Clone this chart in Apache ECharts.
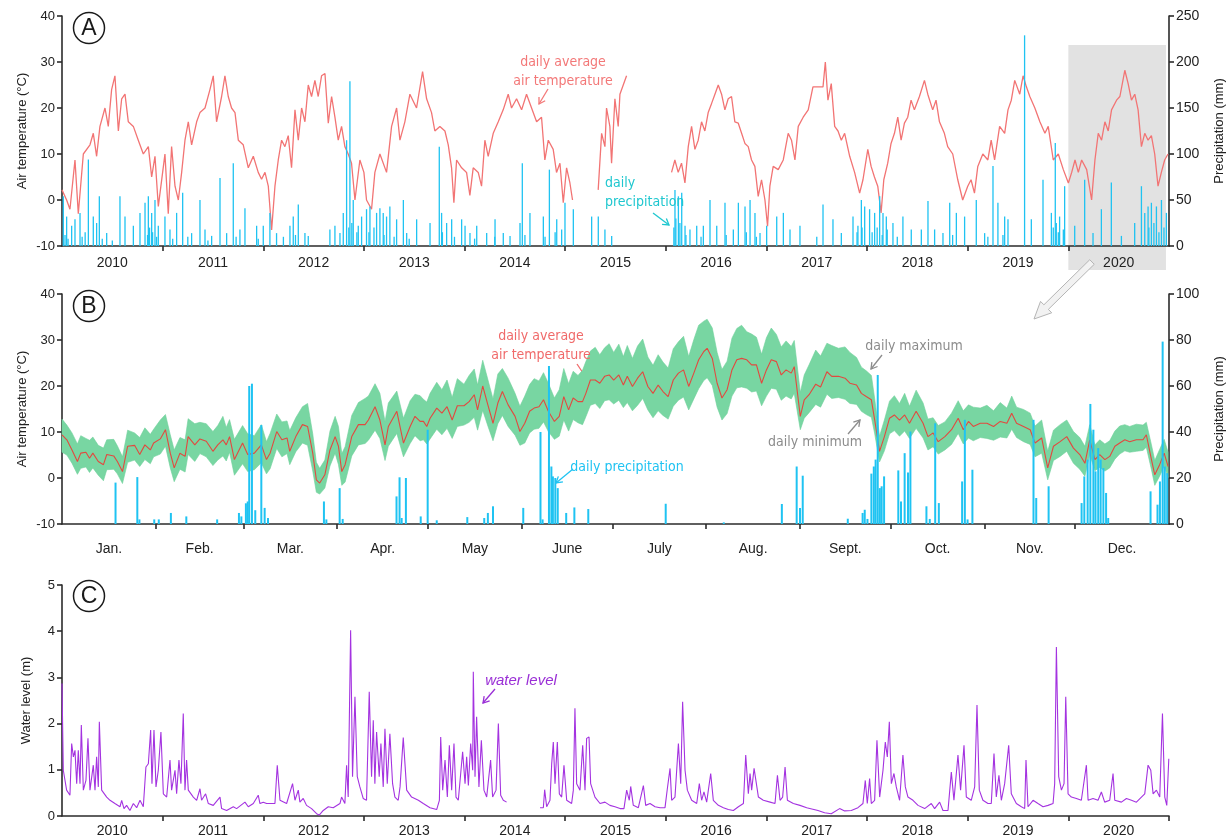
<!DOCTYPE html>
<html>
<head>
<meta charset="utf-8">
<title>Air temperature, precipitation and water level 2010–2020</title>
<script src="https://cdn.jsdelivr.net/npm/echarts@6/dist/echarts.min.js"></script>
<style>
  html, body { margin: 0; padding: 0; background: #ffffff; }
  #chart { width: 1228px; height: 839px; }
</style>
</head>
<body>
<div id="chart"></div>
<script>
// ---------------------------------------------------------------------------
// Data. Panels A and C: t = years since 1 Jan 2010. Panel B: day of year 2020.
// ---------------------------------------------------------------------------

// Panel A: daily average air temperature (°C); null marks gaps in the record
const tempA = [
  [0,2.2],[0.046,0],[0.079,-2],[0.129,8.7],[0.162,-3],[0.212,10],[0.278,12],[0.311,14.5],[0.344,9.5],[0.377,16],[0.427,20],[0.46,16],[0.493,24],[0.526,27],[0.56,15],[0.593,22],[0.626,23],[0.659,17],[0.709,16],[0.758,13],[0.808,10],[0.858,11.6],[0.891,5],[0.924,9.5],[0.957,-1.4],[1,6],
  [1.023,10],[1.056,-3],[1.089,11.6],[1.123,3],[1.156,0],[1.189,6],[1.222,13],[1.255,17],[1.288,12],[1.338,17],[1.371,19],[1.421,20],[1.47,24],[1.503,27],[1.536,17],[1.586,22.5],[1.619,27],[1.652,22.5],[1.685,20],[1.719,19],[1.752,13],[1.801,12],[1.851,7],[1.901,9.5],[1.95,6],[1.983,4.5],
  [2.017,6],[2.05,3],[2.083,-6.5],[2.116,3],[2.149,8.7],[2.182,13],[2.215,11.6],[2.248,14],[2.281,7],[2.315,19.6],[2.348,13],[2.381,20],[2.414,17],[2.447,25],[2.48,22.5],[2.513,26],[2.546,22.5],[2.579,27],[2.613,27.5],[2.646,16.7],[2.679,22.5],[2.712,18],[2.745,13],[2.778,16],[2.811,11.6],[2.844,10],[2.877,8],[2.911,0],[2.96,8.7],
  [3,6],[3.026,0],[3.076,-2],[3.109,6],[3.159,10],[3.225,6],[3.275,16],[3.325,20],[3.358,13],[3.407,17],[3.457,23],[3.523,20],[3.583,27.9],[3.623,22],[3.672,19],[3.705,15],[3.755,16],[3.805,15],[3.838,12],[3.871,7],[3.894,-0.6],[3.921,8.7],[3.971,7],
  [4.02,6],[4.053,1],[4.086,7],[4.136,6],[4.169,3],[4.202,13],[4.235,9.5],[4.285,14.5],[4.335,17],[4.384,19.6],[4.434,23],[4.467,20],[4.517,22],[4.567,19.6],[4.616,23],[4.666,20],[4.716,17],[4.765,18],[4.798,8.7],[4.832,13],[4.881,11],[4.914,6],[4.948,8],[4.981,-0.6],
  [5.014,7],[5.047,3.7],[5.073,0],[5.2,null],
  [5.328,2.2],[5.362,14.5],[5.395,11.6],[5.411,20],[5.444,16],[5.461,8],[5.494,22],[5.527,16],[5.544,23],[5.577,25],[5.61,27],[5.8,null],
  [6.057,6],[6.09,8.7],[6.123,6],[6.156,8],[6.19,3.7],[6.223,11.6],[6.256,16],[6.289,11],[6.322,13],[6.355,17],[6.388,15],[6.421,19],[6.455,21],[6.488,23],[6.521,25],[6.554,23],[6.587,19.6],[6.62,22],[6.653,22.5],[6.686,17],[6.72,16.7],[6.753,14.5],[6.786,12.3],[6.819,11.6],[6.852,8.7],[6.885,7.3],[6.918,0.8],[6.951,4.4],[6.985,0],
  [7.011,-5.7],[7.034,3],[7.067,7.3],[7.117,6.6],[7.167,8.7],[7.216,14.5],[7.249,13],[7.283,8.7],[7.316,16],[7.365,18],[7.415,19.6],[7.462,24.6],[7.512,24.6],[7.562,24.6],[7.585,30],[7.611,21.7],[7.644,25.3],[7.678,16],[7.711,15],[7.744,13],[7.777,14.5],[7.827,9.5],[7.876,6],[7.926,1.5],[7.959,4.4],
  [8.007,11],[8.04,7.3],[8.073,5],[8.106,3],[8.139,-2.8],[8.166,4.4],[8.205,8],[8.238,12.3],[8.272,14.5],[8.305,18],[8.338,13],[8.371,16.7],[8.404,18],[8.437,21.7],[8.47,19.6],[8.52,22.5],[8.57,26],[8.603,23],[8.652,19.6],[8.685,21.7],[8.719,17],[8.768,14.5],[8.801,11.6],[8.851,10],[8.901,4.4],[8.95,0],
  [9,3],[9.033,4.4],[9.067,1.5],[9.1,7.3],[9.15,10],[9.2,8.7],[9.233,13],[9.267,8.7],[9.317,16],[9.367,14.5],[9.4,19.6],[9.433,21.7],[9.467,26],[9.517,23],[9.55,27],[9.583,24.6],[9.617,22.5],[9.667,20],[9.717,17],[9.767,14.5],[9.8,16],[9.85,8.7],[9.9,10],[9.95,6.6],
  [10,3.7],[10.033,6],[10.066,8.7],[10.099,6],[10.132,8.7],[10.182,6.6],[10.231,0],[10.264,8.7],[10.297,14.5],[10.33,13],[10.363,17],[10.396,15],[10.429,19.6],[10.479,21.7],[10.512,22.5],[10.561,28.2],[10.594,25.3],[10.627,21.7],[10.66,23],[10.693,19.6],[10.726,11.6],[10.759,14.5],[10.792,13],[10.825,14],[10.858,10],[10.891,3],[10.924,6],[10.957,8.7],[10.99,10]
];

// Panel A: daily precipitation (mm)
const precipA = [
  [0.013,54],[0.03,12],[0.046,32],[0.06,8],[0.096,22],[0.129,29],[0.179,36],[0.2,10],[0.23,15],[0.262,94],[0.311,32],[0.344,25],[0.371,54],[0.4,8],[0.444,14],[0.5,6],[0.576,54],[0.626,32],[0.709,22],[0.775,36],[0.825,47],[0.85,12],[0.858,54],[0.87,20],[0.891,36],[0.9,15],[0.924,50],[0.94,10],[0.957,22],
  [1.023,32],[1.073,18],[1.1,8],[1.139,36],[1.199,58],[1.25,10],[1.288,14],[1.371,50],[1.421,18],[1.45,6],[1.487,11],[1.57,74],[1.636,14],[1.702,90],[1.73,10],[1.768,18],[1.818,41],[1.934,22],[1.95,8],
  [2,22],[2.066,36],[2.132,14],[2.2,10],[2.265,22],[2.298,32],[2.32,12],[2.348,45],[2.414,14],[2.447,11],[2.662,18],[2.712,22],[2.762,14],[2.795,36],[2.828,115],[2.85,20],[2.861,179],[2.88,25],[2.894,50],[2.93,15],[2.944,22],[2.977,32],
  [3.026,40],[3.05,15],[3.06,43],[3.1,20],[3.126,36],[3.159,41],[3.192,36],[3.2,12],[3.225,32],[3.258,43],[3.3,10],[3.325,29],[3.392,50],[3.425,14],[3.45,8],[3.524,29],[3.657,25],[3.749,108],[3.772,36],[3.78,15],[3.822,25],[3.872,29],[3.9,10],[3.971,29],
  [4.005,22],[4.054,14],[4.1,8],[4.121,22],[4.22,14],[4.3,10],[4.303,29],[4.385,14],[4.452,11],[4.551,25],[4.574,90],[4.6,12],[4.65,36],[4.783,32],[4.8,10],[4.843,83],[4.9,15],[4.916,29],[4.965,18],[4.998,47],
  [5.081,40],[5.263,32],[5.329,32],[5.395,18],[5.462,11],
  [6.08,20],[6.091,61],[6.1,30],[6.125,54],[6.14,25],[6.158,58],[6.191,22],[6.2,12],[6.24,18],[6.307,22],[6.35,10],[6.373,22],[6.439,50],[6.506,22],[6.588,47],[6.6,12],[6.671,18],[6.721,47],[6.787,43],[6.8,15],[6.837,50],[6.886,36],[6.9,10],[6.936,14],
  [7.002,22],[7.102,32],[7.168,36],[7.234,18],[7.333,22],[7.5,10],[7.562,45],[7.661,29],[7.744,14],[7.86,32],[7.9,15],[7.909,22],[7.943,50],[7.95,20],[7.976,43],
  [8.025,40],[8.05,15],[8.075,36],[8.1,20],[8.125,54],[8.15,12],[8.158,36],[8.191,32],[8.2,18],[8.257,25],[8.3,10],[8.356,32],[8.439,18],[8.539,18],[8.605,49],[8.671,18],[8.754,14],[8.821,47],[8.85,12],[8.887,36],[8.969,32],
  [9.085,50],[9.168,14],[9.2,10],[9.251,87],[9.3,47],[9.35,12],[9.367,32],[9.4,29],[9.565,229],[9.632,29],[9.748,72],[9.831,36],[9.85,20],[9.87,112],[9.88,25],[9.9,15],[9.913,32],[9.95,18],[9.963,65],
  [10.063,22],[10.162,72],[10.245,14],[10.328,40],[10.427,69],[10.527,11],[10.659,25],[10.726,65],[10.759,36],[10.792,43],[10.8,20],[10.825,47],[10.85,25],[10.875,43],[10.9,15],[10.925,50],[10.95,20],[10.974,36]
];

// Panel B (2020): day of year, daily average / maximum / minimum air temperature (°C)
const dayB = [0,1.6,3.3,5.1,6.2,7.9,9.1,10.2,12,13.7,14.8,17.1,18.3,20,21.7,24,25.7,27.4,29.2,30.3,
  32.5,34.2,35.8,37.1,39,40.7,41.7,43.9,45.6,47.7,49.9,51.5,53.2,54.3,55.4,57,59.7,
  61.4,63.6,65.9,67.6,68.8,71,72.7,74.4,75.3,77.3,79.5,81.2,82.9,84.1,85.2,86.9,88.6,90.3,
  91.4,92.5,93.6,95.8,98,100.2,101.3,103.5,105.1,106.8,107.9,110.7,112.9,115.1,116.7,118.4,119.5,120.6,
  121.7,123.9,125.6,127.3,129,130.7,132.9,134.6,136.3,137.4,139.1,140.8,142.5,144.1,145.6,147.5,149.8,151.4,
  153,154.6,156.1,157.7,159.2,160.8,162.8,164.4,165.9,167.5,169,170.6,172.1,173.2,174.7,176.3,177.8,179.4,180.9,
  182.4,184.1,185.6,186.9,188.6,190.3,192,193.7,195.4,197.1,198.7,200.4,202.1,203.8,205.5,207.2,208.9,210.5,212.2,
  213.3,215,216.6,218.2,219.9,221.5,223.1,224.7,226.4,228,229.6,231.3,232.9,234.5,236.2,237.8,239.4,241.1,242.1,
  244.1,245.4,247,249.2,250.8,252.9,254.5,256.7,258.9,260.5,262.7,264.3,265.9,267.6,268.7,270.3,271.9,273.6,
  275.2,276.9,278.6,280.2,282.4,284.7,286.3,288,289.7,291.9,294.1,296.3,298,299.7,301.3,303.6,
  305.8,308,310.2,312.4,314,315.6,317.9,320.1,321.7,323.9,325.9,327.8,330,332.2,334.4,
  336.5,338.2,339.8,341.5,343.1,344.8,346.4,348.1,349.7,351.4,353,355.2,357.4,358.5,360.2,361.3,362.9,364.4,365.7];
const avgB = [9.4,8.3,6.1,3.6,5.4,5.6,4.3,5.4,3.6,2.9,5.1,4.8,3.6,1.4,6.9,7.1,5.1,7.2,6.1,7.6,
  8.5,10.5,5.4,2.2,5.4,4.7,9,7.2,8.5,8,5.8,7.2,8.3,7.2,9,4,7.6,
  5.1,5.4,7.2,4,5.4,10.1,8.3,8.7,5.8,9,11.6,11.2,5.4,-0.4,-1.1,0.7,6.1,9,
  6.9,1.4,2.9,9,11.6,11.6,12.6,15.5,12.6,7.2,11.2,14.5,7.6,11.2,13.4,12.3,12.3,11.2,
  13,15.2,14.1,15.5,12.6,15.7,15.7,16.6,18.1,14.8,20,15.9,11.9,16.3,18.8,15.9,13.4,10.1,
  11.9,14.5,15.2,15.5,17,14.5,12.3,13.4,17.7,14.8,17.4,16.6,16.6,18.4,21.3,21.3,20.6,22.1,22.4,
  21.3,22.4,20.2,22.1,19.9,21.7,23.1,19.9,18.4,20.2,18.8,17.7,21.3,22.8,23.5,19.9,22.8,25.7,27.5,
  28.2,26,20.6,17.4,19.2,23.5,25.7,26,25.7,24.6,24.6,20.6,23.5,25.7,25.3,22.4,23.5,22.8,24.2,
  13.4,17,18.1,20.4,19.8,23.1,22.1,22.1,21.7,20.6,20.2,18.4,17.7,17,12.6,5.8,9,13,
  13.7,12.6,13.7,11.9,14.5,11.9,9,9.8,7.9,9,10.5,13,10.5,12.3,11.2,11.9,
  11.9,11.2,12.3,11.9,14.1,11.9,11.2,10.5,7.6,8.7,2.2,6.9,7.9,9,6.5,
  5.1,3.2,8.3,4,5.1,4,4.7,6.9,7.6,8.3,7.9,8.3,8.3,9.4,4,0.7,2.9,5.4,2.5];
const maxB = [12.8,11.5,9.8,7.4,9.2,8.6,8.2,8.9,7.1,6.5,8.3,8.4,7,4.6,10.4,9.8,8.8,10.9,9.5,10.6,
  12.6,13.8,9.4,6.1,8.8,8.3,12.9,11.8,12.1,11.8,10.1,11.4,13.4,11,12.7,8.4,11.4,
  9.6,9.2,11.6,7.9,9.7,13.9,12.2,12.4,10.3,13.1,15.5,16.2,9.6,3.4,2.1,3.9,10.2,13.4,
  11.2,5.3,6.8,13.6,16.4,17.3,17.8,20.5,18.4,12.3,16.3,18.9,13,16.8,18.2,17.9,17.1,16.5,
  18.4,20.8,19.2,21.3,17.5,21.6,20.4,22.3,23.7,20.2,25.6,21.4,17.2,22.6,23.8,21.7,18.4,15.6,
  17.8,20.3,21.6,21.1,22.9,20.6,17.4,19.2,23.8,20.5,23.2,22.3,23.4,25.3,27.6,28.4,26.8,28.3,29.2,
  27.3,29.1,26.4,28.8,26,28.7,30.2,26.3,24.5,26.8,25.2,23.9,28.1,29.6,30.8,26.4,30.1,33.2,34.1,
  34.5,32.6,27.3,23.6,25.4,30.4,32.5,33.2,31.8,31.3,30.6,26.9,30.5,32.6,31.2,28.5,29.8,28.6,29.9,
  18.6,22.4,24.6,27.8,26.5,29.3,28.8,28.2,28.5,27.3,26.2,24.1,23.3,22.3,17.2,9.1,12.6,16.7,
  17.9,16.2,18.4,15.6,19.1,16.3,12.8,13.1,11.4,12.2,14.1,16.8,14.6,15.9,15.4,15.2,
  15.8,14.6,16.4,15.2,17.8,15.4,14.9,14.1,11.3,12.6,5.8,10.4,11.6,12.6,10.1,
  8.8,6.9,11.6,7.2,8.3,7.4,8.1,10.2,11.3,11.6,11.2,11.7,11.5,12.1,7.2,3.8,6.2,8.4,5.6];
const minB = [5.6,5,3.2,0.8,2.1,2.4,1.2,2.2,0.6,-0.6,1.8,1.9,0.9,-1.2,3.4,3.9,2.5,4,3.1,4.6,
  5.2,6.9,2.2,-0.8,1.9,1.3,5.1,3.6,5.3,4.6,2.7,3.9,4.8,3.7,5.6,0.6,3.1,
  1.4,1.8,3.3,0.9,2,6.4,4.6,5.3,2.9,5.7,7.6,7.1,1.5,-3.1,-3.5,-2.2,2.6,5.4,
  2.9,-1.6,-0.9,4.8,7.2,7.5,8.2,10.4,8.6,3.8,6.9,9.7,4.6,7.5,9.2,8.1,8.3,7.4,
  8.5,10.6,9.4,10.8,8.6,11.2,11.5,12.1,13.2,10.4,14.7,11.3,8.1,11.8,13.6,11.2,9.3,7.1,
  7.6,9.8,10.6,10.8,12.2,10.1,8.4,9.1,12.6,10.2,12.7,12,11.6,13.3,15.8,16.2,15.1,16.8,17,
  16.1,16.9,15.3,16.4,14.6,15.8,17.3,14.8,13.1,14.6,13.6,12.8,15.6,16.9,17.6,14.8,17.2,19.4,21.2,
  21.8,20.1,15.4,12.6,14,17.8,19.6,19.8,19.5,18.7,18.9,15.7,17.8,19.5,19.3,16.9,17.8,17.2,18.4,
  10.5,13,14.2,16,15.4,18.2,17.3,17.5,17.1,16.2,16,14.5,13.8,13.2,9.6,3.5,5.9,9.6,
  10.3,9.1,10.2,8.6,10.8,8.7,6.1,6.8,5.2,6.1,7.3,9.7,7.4,8.7,8.1,8.8,
  8.6,8.2,8.9,8.7,10.6,8.8,7.9,7.3,4.6,5.4,-0.4,3.8,4.7,5.8,3.2,
  1.9,0.4,5.1,1.6,2.3,1.5,2.2,4.1,5.2,5.9,5.6,5.8,6,6.7,1.8,-1.6,0.4,2.6,0.1];

// Panel B (2020): day of year, daily precipitation (mm)
const precipB = [
  [17.7,18],[24.9,20.4],[25.6,2],[30.5,2],[32,2],[36,4.8],[41.1,3.3],[51.3,2],[58.5,4.8],[59.3,3.3],[60.8,9],[61.4,9.8],[61.9,60],[62.8,61],[63.9,6],[65.9,43],[67,7],[68.1,2.6],
  [86.6,9.8],[87.4,2],[91.8,15.6],[92.8,2.2],[110.6,12],[111.6,20.3],[112.3,2.6],[113.7,20],[118.6,3.3],[120.9,41],[123.9,1.6],[134,3],[139.6,2.6],[140.8,4.8],[142.5,7.7],
  [152.5,7],[158.2,40],[158.9,2],[161,68.7],[161.8,25],[162.3,20.7],[163.1,20],[163.9,15.6],[166.7,4.8],[169.4,7.2],[174,6.5],[199.6,8.8],[218.8,0.7],[238,8.7],[242.9,25],[244,7],[244.9,21],
  [259.8,2.3],[264.7,4.8],[265.4,6.2],[266.3,2.2],[267.6,21.9],[268.4,25],[269,28],[269.7,64.8],[270.4,15.6],[271,16.4],[271.8,20.7],
  [276.5,23.3],[277.4,9.8],[278.6,30.8],[279.7,22.4],[280.5,40.2],[285.8,7.7],[286.9,2.2],[288.7,43.8],[289.9,9.1],[297.6,18.5],[298.5,45.3],[299.4,2],[301,23.6],
  [321.2,45.3],[322.1,11.3],[326.2,16.4],[337.1,9.1],[338,20.7],[339.1,28],[340,52.2],[341,41],[341.7,22.9],[342.6,33],[343.4,28],[344.3,24.3],[345.2,13.5],[345.9,2.6],
  [359.9,14.2],[362.2,8.4],[363,18.5],[363.9,79.3],[364.6,25],[365.4,22.1]
];

// Panel C: water level (m); null marks the gap in 2014
const waterC = [
  [0,2.87],[0.013,0.99],[0.046,0.56],[0.079,0.45],[0.096,1.57],[0.113,1.28],[0.129,1.42],[0.146,0.7],[0.162,1.42],[0.179,0.7],[0.192,1.97],[0.212,0.56],[0.238,0.77],[0.258,1.68],[0.278,0.56],[0.311,1.1],[0.328,0.56],[0.344,1.28],[0.361,0.63],[0.371,2.04],[0.394,0.56],[0.444,0.41],[0.477,0.34],[0.526,0.27],[0.576,0.2],[0.593,0.34],[0.616,0.16],[0.642,0.23],[0.675,0.12],[0.709,0.27],[0.742,0.18],[0.775,0.34],[0.808,0.2],[0.834,1.06],[0.858,1.13],[0.881,1.86],[0.894,0.7],[0.914,1.86],[0.934,0.63],[0.957,0.99],[0.983,1.82],
  [1.007,0.48],[1.04,0.41],[1.073,1.21],[1.089,0.56],[1.123,0.99],[1.139,0.48],[1.162,1.21],[1.182,0.7],[1.205,2.22],[1.222,0.56],[1.238,1.21],[1.255,0.56],[1.305,0.41],[1.338,0.34],[1.371,0.59],[1.387,0.34],[1.427,0.48],[1.454,0.27],[1.503,0.23],[1.57,0.41],[1.586,0.16],[1.636,0.12],[1.702,0.2],[1.735,0.16],[1.818,0.3],[1.851,0.2],[1.901,0.27],[1.95,0.45],[1.967,0.27],
  [2,0.3],[2.033,0.27],[2.083,0.27],[2.116,0.27],[2.139,1.1],[2.166,0.34],[2.232,0.27],[2.291,0.7],[2.315,0.34],[2.348,0.56],[2.364,0.3],[2.397,0.38],[2.43,0.23],[2.48,0.16],[2.53,0.05],[2.556,0.02],[2.596,0.12],[2.646,0.2],[2.695,0.18],[2.762,0.27],[2.778,0.41],[2.811,0.27],[2.828,1.1],[2.844,0.41],[2.868,4.02],[2.887,0.85],[2.911,2.58],[2.934,0.85],[2.96,0.63],[2.993,0.38],
  [3.026,0.34],[3.053,2.69],[3.076,0.85],[3.093,2.07],[3.109,0.7],[3.126,1.82],[3.152,0.85],[3.169,1.57],[3.192,0.63],[3.209,1.89],[3.232,0.7],[3.258,1.78],[3.285,0.7],[3.308,0.41],[3.341,0.34],[3.359,0.63],[3.391,1.7],[3.425,0.56],[3.474,0.41],[3.541,0.34],[3.59,0.27],[3.657,0.18],[3.723,0.14],[3.75,0.34],[3.763,1.71],[3.783,0.56],[3.806,1.21],[3.829,0.41],[3.849,1.53],[3.872,0.56],[3.895,1.57],[3.915,0.41],[3.938,0.34],[3.981,1.39],
  [4.005,0.7],[4.021,1.28],[4.038,0.66],[4.061,1.57],[4.081,0.99],[4.087,3.12],[4.104,0.85],[4.12,2.15],[4.143,0.63],[4.167,1.64],[4.193,0.56],[4.22,0.41],[4.259,1.21],[4.279,0.41],[4.313,0.56],[4.336,2],[4.359,0.45],[4.385,0.34],[4.418,0.3],[4.6,null],
  [4.75,0.18],[4.783,0.18],[4.796,0.57],[4.816,0.2],[4.849,0.34],[4.866,1.13],[4.882,1.6],[4.899,0.7],[4.922,1.6],[4.942,0.48],[4.965,0.41],[4.988,1.1],
  [5.015,0.34],[5.064,0.27],[5.081,0.56],[5.097,2.33],[5.114,0.7],[5.147,0.56],[5.174,1.53],[5.197,0.56],[5.213,1.68],[5.237,1.71],[5.253,0.7],[5.296,0.41],[5.346,0.27],[5.395,0.3],[5.445,0.23],[5.495,0.2],[5.545,0.16],[5.584,0.16],[5.611,0.56],[5.637,0.34],[5.651,0.64],[5.677,0.23],[5.727,0.18],[5.777,0.66],[5.8,0.23],[5.843,0.27],[5.893,0.2],[5.943,0.18],[5.992,0.18],
  [6.015,0.59],[6.042,1.03],[6.058,0.34],[6.091,0.41],[6.125,1.57],[6.148,0.7],[6.167,2.47],[6.191,0.99],[6.214,0.56],[6.257,0.34],[6.307,0.27],[6.333,0.7],[6.356,0.34],[6.379,0.52],[6.406,0.3],[6.446,0.92],[6.472,0.34],[6.522,0.23],[6.572,0.18],[6.621,0.14],[6.671,0.12],[6.721,0.2],[6.771,0.27],[6.794,1.32],[6.82,0.48],[6.837,0.92],[6.853,0.56],[6.877,1.03],[6.896,0.99],[6.92,0.41],[6.969,0.34],
  [7.036,0.3],[7.085,0.27],[7.109,0.88],[7.135,0.34],[7.161,0.41],[7.185,1.06],[7.208,0.34],[7.267,0.27],[7.333,0.23],[7.4,0.18],[7.512,0.12],[7.578,0.07],[7.644,0.05],[7.727,0.16],[7.777,0.11],[7.843,0.12],[7.909,0.18],[7.959,0.27],[7.982,0.77],
  [8.002,0.27],[8.025,0.81],[8.042,0.27],[8.075,0.34],[8.098,1.64],[8.125,0.41],[8.158,0.99],[8.181,1.6],[8.201,1.28],[8.221,2.04],[8.241,0.7],[8.267,0.92],[8.29,0.63],[8.323,0.34],[8.356,1.32],[8.38,0.63],[8.406,0.41],[8.456,0.34],[8.506,0.23],[8.572,0.16],[8.638,0.27],[8.671,0.16],[8.721,0.3],[8.754,0.12],[8.804,0.12],[8.837,0.95],[8.863,0.34],[8.903,1.32],[8.929,0.56],[8.963,1.53],[8.986,0.41],
  [9.035,0.34],[9.069,0.63],[9.092,2.4],[9.115,0.56],[9.151,0.34],[9.201,0.27],[9.234,0.27],[9.261,1.35],[9.284,0.41],[9.31,0.88],[9.334,0.34],[9.367,0.7],[9.407,1.53],[9.433,0.48],[9.483,0.27],[9.533,0.2],[9.566,0.16],[9.579,1.21],[9.599,0.2],[9.649,0.34],[9.698,0.27],[9.748,0.2],[9.798,0.23],[9.848,0.27],[9.864,0.7],[9.881,3.66],[9.904,0.85],[9.931,0.56],[9.957,0.7],[9.974,2.58],[9.997,0.48],
  [10.03,0.41],[10.08,0.38],[10.129,0.34],[10.179,1.1],[10.196,0.34],[10.245,0.38],[10.295,0.34],[10.328,0.52],[10.361,0.3],[10.411,0.34],[10.444,0.92],[10.461,0.34],[10.527,0.3],[10.577,0.38],[10.627,0.34],[10.676,0.3],[10.726,0.41],[10.759,0.48],[10.792,1.1],[10.819,0.99],[10.842,0.48],[10.875,0.56],[10.908,0.41],[10.935,2.22],[10.958,0.41],[10.978,0.23],[10.998,1.24]
];

// Axis tick and label positions
const yearTicks = [1, 2, 3, 4, 5, 6, 7, 8, 9, 10];
const yearTicksC = [1, 2, 3, 4, 5, 6, 7, 8, 9, 10, 11];
const yearLabelPos = [0.5, 1.5, 2.5, 3.5, 4.5, 5.5, 6.5, 7.5, 8.5, 9.5, 10.5];
const firstYear = 2010;
const monthStartDays = [31, 60, 91, 121, 152, 182, 213, 244, 274, 305, 335];
const monthMidDays = [15.5, 45.5, 75.5, 106, 136.5, 167, 197.5, 228.5, 259, 289.5, 320, 350.5];
const monthNames = ['Jan.', 'Feb.', 'Mar.', 'Apr.', 'May', 'June', 'July', 'Aug.', 'Sept.', 'Oct.', 'Nov.', 'Dec.'];

// ---------------------------------------------------------------------------
// Styling helpers
// ---------------------------------------------------------------------------
const AXIS_COLOR = '#2b2b2b';
const FONT = "'Liberation Sans', Arial, sans-serif";
const NARROW = "'Liberation Sans Narrow', 'DejaVu Sans Condensed', 'Liberation Sans', sans-serif";

const axisLineStyle = { show: true, onZero: false, lineStyle: { color: AXIS_COLOR, width: 1.6 } };
const tickStyle = { show: true, length: 5, lineStyle: { color: AXIS_COLOR, width: 1.6 } };
const labelStyle = { color: '#222', fontSize: 13, fontFamily: FONT };
const nameStyle = { color: '#222', fontSize: 13, fontFamily: FONT };

function yearAxis(gridIndex, ticks, margin) {
  return {
    type: 'value', gridIndex, min: 0, max: 11,
    axisLine: axisLineStyle,
    axisTick: Object.assign({}, tickStyle, { customValues: ticks }),
    axisLabel: Object.assign({}, labelStyle, {
      fontSize: 14, margin, customValues: yearLabelPos,
      formatter: v => String(firstYear + Math.floor(v))
    }),
    splitLine: { show: false }
  };
}

function leftAxis(gridIndex, min, max, interval, name, gap) {
  return {
    type: 'value', gridIndex, position: 'left', min, max, interval,
    name, nameLocation: 'middle', nameGap: gap, nameRotate: 90, nameMoveOverlap: false,
    nameTextStyle: nameStyle,
    axisLine: axisLineStyle, axisTick: tickStyle,
    axisLabel: Object.assign({}, labelStyle, { margin: 7 }),
    splitLine: { show: false }
  };
}

function rightAxis(gridIndex, min, max, interval, name) {
  return {
    type: 'value', gridIndex, position: 'right', min, max, interval,
    name, nameLocation: 'middle', nameGap: 44, nameRotate: 90, nameMoveOverlap: false,
    nameTextStyle: nameStyle,
    axisLine: axisLineStyle, axisTick: tickStyle,
    axisLabel: Object.assign({}, labelStyle, { fontSize: 14, margin: 7 }),
    splitLine: { show: false }
  };
}

const zip = (xs, ys) => xs.map((x, i) => [x, ys[i]]);

// ---------------------------------------------------------------------------
// Chart
// ---------------------------------------------------------------------------
const chart = echarts.init(document.getElementById('chart'), null, { renderer: 'canvas' });

// Min–max band of panel B as one polygon placed through the axes' scales
function renderBand(params, api) {
  const pts = [];
  for (let i = 0; i < dayB.length; i++) pts.push(api.coord([dayB[i], maxB[i]]));
  for (let i = dayB.length - 1; i >= 0; i--) pts.push(api.coord([dayB[i], minB[i]]));
  return { type: 'polygon', shape: { points: pts }, style: { fill: '#78d6a2', stroke: '#6fd09a', lineWidth: 0.6 } };
}

const gridBase = { left: 62, right: 59, outerBoundsMode: 'none', containLabel: false };

const option = {
  backgroundColor: '#ffffff',
  animation: false,
  grid: [
    Object.assign({ top: 16, height: 230 }, gridBase),
    Object.assign({ top: 294, height: 230 }, gridBase),
    Object.assign({ top: 585, height: 231 }, gridBase)
  ],
  xAxis: [
    yearAxis(0, yearTicks, 10),
    {
      type: 'value', gridIndex: 1, min: 0, max: 366,
      axisLine: axisLineStyle,
      axisTick: Object.assign({}, tickStyle, { customValues: monthStartDays }),
      axisLabel: Object.assign({}, labelStyle, {
        fontSize: 14, margin: 18, customValues: monthMidDays,
        formatter: v => monthNames[monthMidDays.indexOf(v)]
      }),
      splitLine: { show: false }
    },
    yearAxis(2, yearTicksC, 8)
  ],
  yAxis: [
    leftAxis(0, -10, 40, 10, 'Air temperature (°C)', 33),
    rightAxis(0, 0, 250, 50, 'Precipitation (mm)'),
    leftAxis(1, -10, 40, 10, 'Air temperature (°C)', 33),
    rightAxis(1, 0, 100, 20, 'Precipitation (mm)'),
    leftAxis(2, 0, 5, 1, 'Water level (m)', 29)
  ],
  series: [
    // Panel A
    {
      name: 'daily average air temperature', type: 'line',
      xAxisIndex: 0, yAxisIndex: 0, data: tempA,
      showSymbol: false, connectNulls: false, z: 3,
      lineStyle: { color: '#f27474', width: 1.3 }
    },
    {
      name: 'daily precipitation', type: 'bar',
      xAxisIndex: 0, yAxisIndex: 1, data: precipA,
      barWidth: 1.3, z: 4,
      itemStyle: { color: '#1fc3f2' }
    },
    // Panel B
    {
      name: 'daily minimum to maximum', type: 'custom',
      xAxisIndex: 1, yAxisIndex: 2, data: [[0, 0]], z: 2,
      renderItem: renderBand
    },
    {
      name: 'daily average air temperature 2020', type: 'line',
      xAxisIndex: 1, yAxisIndex: 2, data: zip(dayB, avgB),
      showSymbol: false, z: 3,
      lineStyle: { color: '#e2493f', width: 1.1 }
    },
    {
      name: 'daily precipitation 2020', type: 'bar',
      xAxisIndex: 1, yAxisIndex: 3, data: precipB,
      barWidth: 2, z: 4,
      itemStyle: { color: '#1fc3f2' }
    },
    // Panel C
    {
      name: 'water level', type: 'line',
      xAxisIndex: 2, yAxisIndex: 4, data: waterC,
      showSymbol: false, connectNulls: false, z: 3,
      lineStyle: { color: '#a433e0', width: 1.1 }
    }
  ]
};

chart.setOption(option);

// ---------------------------------------------------------------------------
// Annotations: panel letters, callouts, the 2020 highlight and its pointer
// ---------------------------------------------------------------------------
function callout(x1, y1, x2, y2, color) {
  const a = Math.atan2(y2 - y1, x2 - x1), h = 6, w = 3.6;
  const bx = x2 - h * Math.cos(a), by = y2 - h * Math.sin(a);
  return {
    type: 'group', children: [
      { type: 'line', shape: { x1, y1, x2, y2 }, style: { stroke: color, lineWidth: 1.3 } },
      { type: 'polyline', shape: { points: [
          [bx - w * Math.sin(a), by + w * Math.cos(a)], [x2, y2], [bx + w * Math.sin(a), by - w * Math.cos(a)]
        ] }, style: { stroke: color, lineWidth: 1.3, fill: null } }
    ]
  };
}

function label(x, y, text, color, opts) {
  return {
    type: 'text', x, y, z: 10,
    style: Object.assign({
      text, fill: color, font: '14px ' + NARROW, align: 'center', verticalAlign: 'middle', lineHeight: 19
    }, opts || {})
  };
}

function panelLetter(cx, cy, letter) {
  return {
    type: 'group', children: [
      { type: 'circle', shape: { cx, cy, r: 15.5 }, style: { fill: null, stroke: '#1a1a1a', lineWidth: 1.5 } },
      { type: 'text', x: cx, y: cy + 1, style: { text: letter, fill: '#1a1a1a', font: '23px ' + FONT, align: 'center', verticalAlign: 'middle' } }
    ]
  };
}

function hollowArrow(sx, sy, tx, ty) {
  const a = Math.atan2(ty - sy, tx - sx);
  const nx = -Math.sin(a), ny = Math.cos(a);
  const headLen = 17, shaftW = 3.2, headW = 8;
  const hx = tx - headLen * Math.cos(a), hy = ty - headLen * Math.sin(a);
  const p = (x, y, k) => [x + nx * k, y + ny * k];
  return {
    type: 'polygon', z: 1,
    shape: { points: [
      p(sx, sy, shaftW), p(hx, hy, shaftW), p(hx, hy, headW), [tx, ty],
      p(hx, hy, -headW), p(hx, hy, -shaftW), p(sx, sy, -shaftW)
    ] },
    style: { fill: '#f2f2f2', stroke: '#b5b5b5', lineWidth: 1 }
  };
}

// 2020 highlight in panel A, placed through the chart's own scales
const hx0 = chart.convertToPixel({ xAxisIndex: 0 }, 10);
const hx1 = chart.convertToPixel({ xAxisIndex: 0 }, 10.97);
const hyTop = chart.convertToPixel({ yAxisIndex: 0 }, 33.7);
const hyBottom = chart.convertToPixel({ yAxisIndex: 0 }, -10) + 24;

chart.setOption({
  graphic: [
    {
      type: 'rect', z: -1, silent: true,
      shape: { x: hx0, y: hyTop, width: hx1 - hx0, height: hyBottom - hyTop },
      style: { fill: 'rgba(185,185,185,0.42)' }
    },
    hollowArrow(1092, 262, 1034, 319),

    panelLetter(89, 28, 'A'),
    panelLetter(89, 306, 'B'),
    panelLetter(89, 596, 'C'),

    // Panel A callouts
    label(563, 72, 'daily average\nair temperature', '#f37878'),
    callout(548, 89, 539, 104, '#f37878'),
    label(605, 193, 'daily\nprecipitation', '#1fc7cf', { align: 'left' }),
    callout(653, 213, 669, 225, '#1fc7cf'),

    // Panel B callouts
    label(541, 346, 'daily average\nair temperature', '#f06a6a'),
    callout(577, 364, 587, 379, '#f06a6a'),
    label(627, 467, 'daily precipitation', '#1fc3f2'),
    callout(573, 469, 556, 483, '#1fc3f2'),
    label(914, 346, 'daily maximum', '#8c8c8c'),
    callout(882, 355, 871, 369, '#8c8c8c'),
    label(815, 442, 'daily minimum', '#8c8c8c'),
    callout(848, 434, 860, 420, '#8c8c8c'),

    // Panel C callout
    label(521, 681, 'water level', '#9a2fd6', { font: 'italic 15px ' + FONT }),
    callout(495, 689, 483, 703, '#9a2fd6')
  ]
});
</script>
</body>
</html>
